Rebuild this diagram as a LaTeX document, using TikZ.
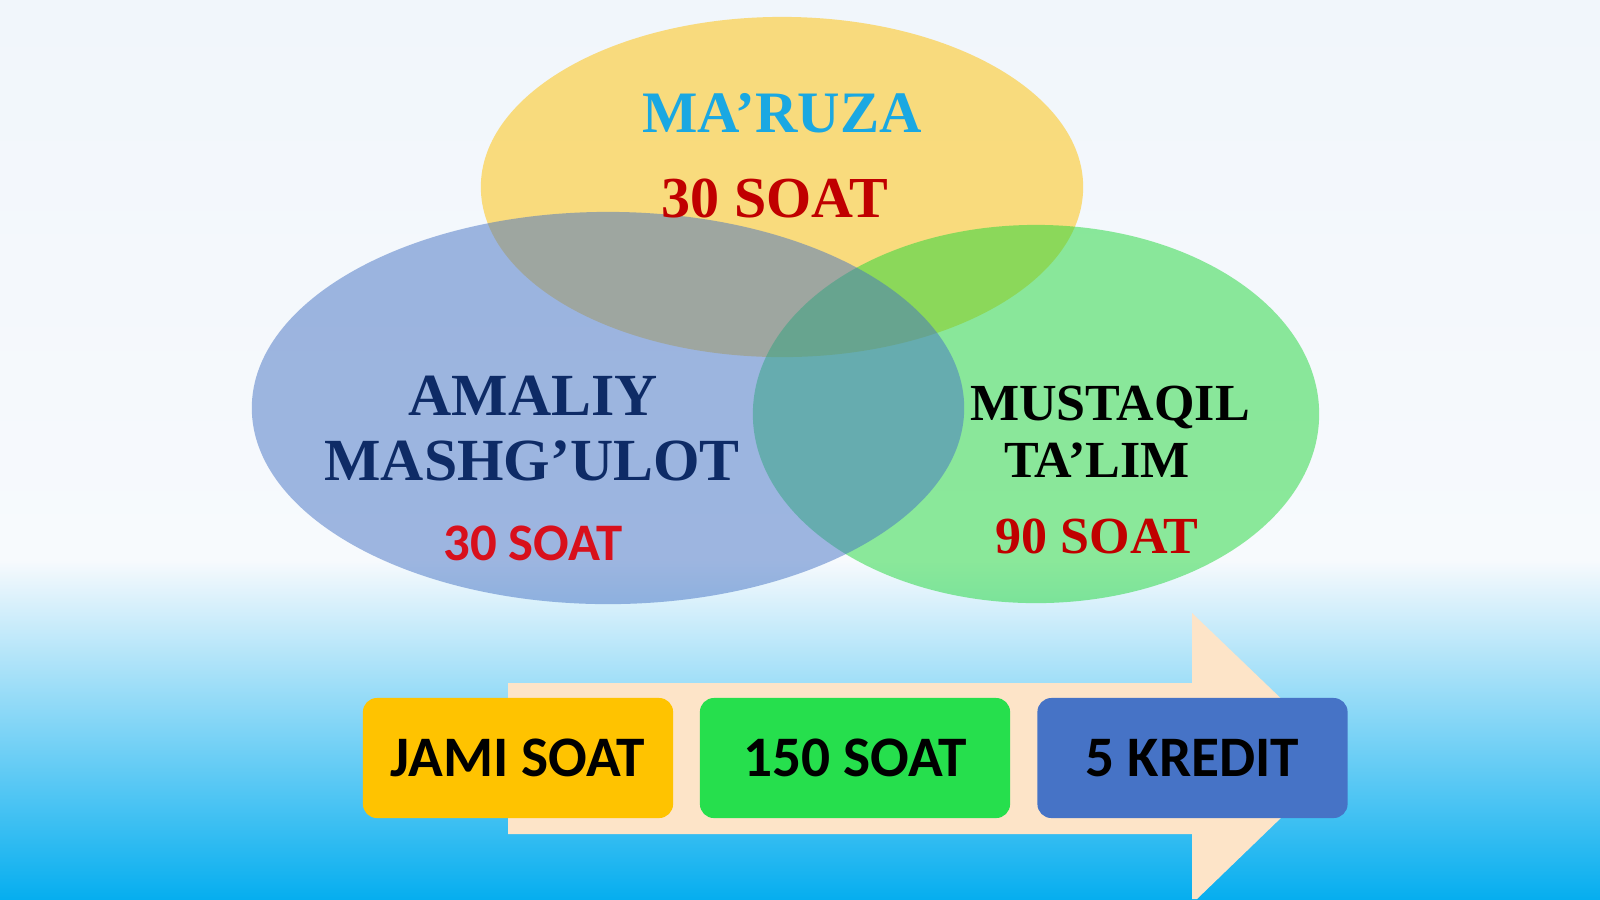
\documentclass[tikz,border=0pt]{standalone}
\usepackage{fontspec}
\setmainfont{Liberation Serif}
\newfontfamily\calibrisans{Carlito}

\definecolor{bgtop}{HTML}{F1F6FB}
\definecolor{bgmid}{HTML}{F7FAFD}
\definecolor{bgsky}{HTML}{06AEEF}
\definecolor{arrowpeach}{HTML}{FDE4C8}
\definecolor{mgold}{HTML}{FFC000}
\definecolor{mgreen}{HTML}{1FD739}
\definecolor{mblue}{HTML}{4472C4}
\definecolor{maruzablue}{HTML}{1AA8E2}
\definecolor{soatred}{HTML}{C00000}
\definecolor{soatbright}{HTML}{D8101C}
\definecolor{amaliynavy}{HTML}{0E2B66}
\definecolor{jamigold}{HTML}{FFC300}
\definecolor{jamigreen}{HTML}{26DF4D}
\definecolor{jamiblue}{HTML}{4673C6}

\begin{document}
\begin{tikzpicture}[x=0.01cm, y=-0.01cm,
    venn/.style={fill opacity=0.5},
    vtext/.style={anchor=base, inner sep=0pt, font=\bfseries\fontsize{#1}{#1}\selectfont},
    soatbox/.style={fill=#1, rounded corners=0.14cm, minimum width=3.1cm, minimum height=1.2cm,
      inner sep=0pt, font=\calibrisans\bfseries\fontsize{16.3pt}{16.3pt}\selectfont}]
    \useasboundingbox (0, 0) rectangle (1600, 899);

    % background
    \shade [top color=bgtop, bottom color=bgmid] (0, 0) rectangle (1600, 560);
    \shade [top color=bgmid, bottom color=bgsky] (0, 560) rectangle (1600, 899);

    % arrow
    \fill [arrowpeach] (508, 683) -- (1192, 683) -- (1192, 613) -- (1343, 758) -- (1197, 899)
      -- (1192, 899) -- (1192, 834) -- (508, 834) -- cycle;

    % three ellipses
    \fill [venn, fill=mgold] (782, 187) ellipse [x radius=3.01cm, y radius=1.70cm];
    \fill [venn, fill=mgreen] (1036, 414) ellipse [x radius=2.83cm, y radius=1.89cm];
    \fill [venn, fill=mblue] (608, 408) ellipse [x radius=3.56cm, y radius=1.96cm];

    \node [vtext=16.7pt, text=maruzablue] (maruza) at (782, 132) {MA’RUZA};
    \node [vtext=16.5pt, text=soatred] (maruzasoat) at (775, 217) {30 SOAT};

    \node [vtext=17pt, text=amaliynavy] (amaliy) at (533, 415) {AMALIY};
    \node [vtext=17pt, text=amaliynavy] (mashgulot) at (532, 480) {MASHG’ULOT};
    \node [vtext=15pt, text=soatbright, font=\calibrisans\bfseries\fontsize{15pt}{15pt}\selectfont]
      (amaliysoat) at (533, 560) {30 SOAT};

    \node [vtext=14.8pt] (mustaqil) at (1110, 420) {MUSTAQIL};
    \node [vtext=14.8pt] (talim) at (1097, 477) {TA’LIM};
    \node [vtext=14.8pt, text=soatred] (mustaqilsoat) at (1097, 553) {90 SOAT};

    % totals
    \node [soatbox=jamigold] (jami) at (518, 758) {JAMI SOAT};
    \node [soatbox=jamigreen] (jamisoat) at (855, 758) {150 SOAT};
    \node [soatbox=jamiblue] (kredit) at (1192.5, 758) {5 KREDIT};
  \end{tikzpicture}
\end{document}
